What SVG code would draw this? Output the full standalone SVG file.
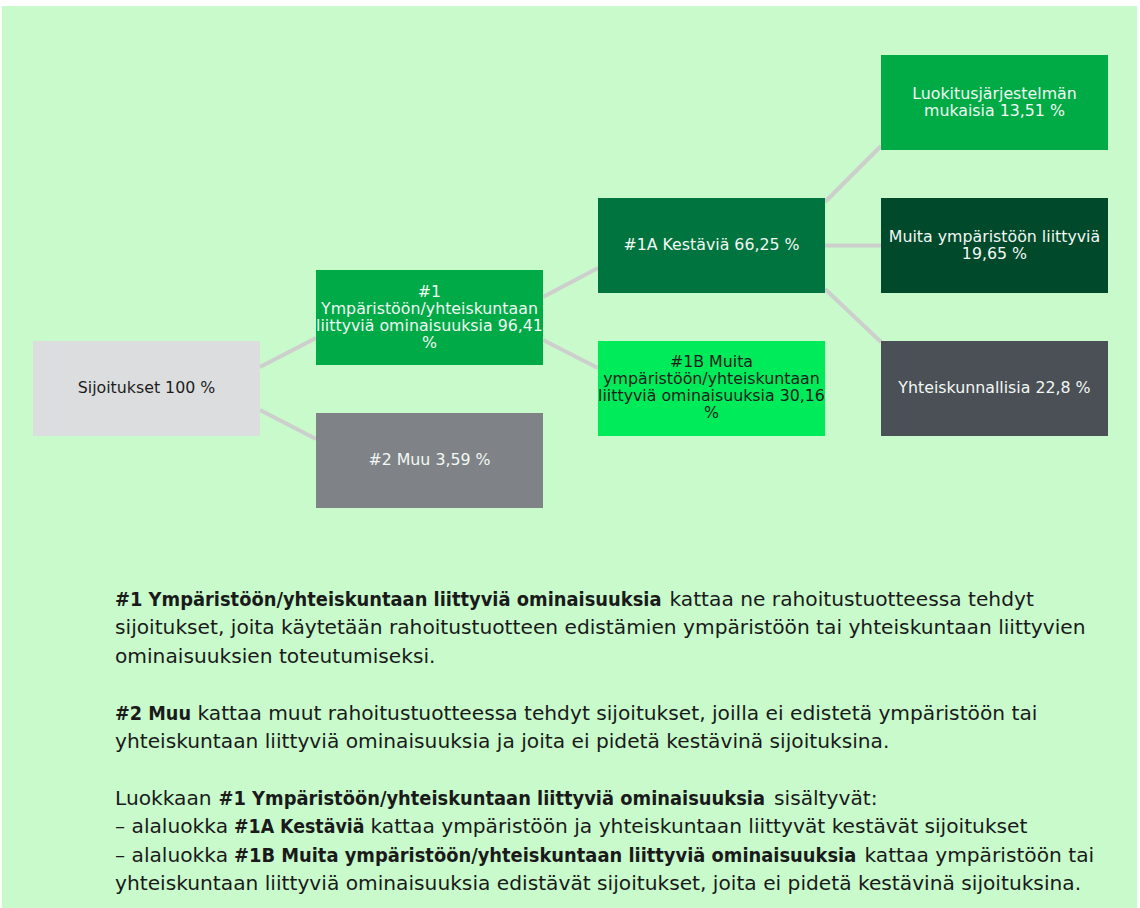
<svg xmlns="http://www.w3.org/2000/svg" width="1140" height="908" viewBox="0 0 1140 908">
<style>
.bt{font-family:"DejaVu Sans","Liberation Sans",sans-serif;font-size:15.8px;text-anchor:middle}
.lt{fill:#f2f8f4}
.dk{fill:#1c1c1c}
.body{font-family:"DejaVu Sans","Liberation Sans",sans-serif;font-size:20.2px;fill:#1a1a1a}
.b{font-weight:bold}
.con line{stroke:#cdcfcd;stroke-width:4}
</style>
<rect x="0" y="0" width="1140" height="908" fill="#ffffff"/>
<rect x="2" y="6" width="1135" height="902" fill="#c8facc"/>
<g class="con" id="connectors">
<line x1="260" y1="367" x2="316" y2="338"/>
<line x1="260" y1="410" x2="316" y2="439"/>
<line x1="543" y1="297" x2="598" y2="268"/>
<line x1="543" y1="340" x2="598" y2="368"/>
<line x1="825" y1="202" x2="881" y2="146"/>
<line x1="825" y1="245.5" x2="881" y2="245.5"/>
<line x1="825" y1="289" x2="881" y2="342"/>
</g>
<g id="n-sijoitukset">
<rect x="33" y="341" width="227" height="95" fill="#dcdddf"/>
<text class="bt dk" x="146.5" y="393">Sijoitukset 100 %</text>
</g>
<g id="n-1">
<rect x="316" y="270" width="227" height="95" fill="#00aa46"/>
<text class="bt lt" x="429.5" y="297">#1</text>
<text class="bt lt" x="429.5" y="314">Ympäristöön/yhteiskuntaan</text>
<text class="bt lt" x="429.5" y="331">liittyviä ominaisuuksia 96,41</text>
<text class="bt lt" x="429.5" y="348">%</text>
</g>
<g id="n-2">
<rect x="316" y="413" width="227" height="95" fill="#7f8387"/>
<text class="bt lt" x="429.5" y="465">#2 Muu 3,59 %</text>
</g>
<g id="n-1a">
<rect x="598" y="198" width="227" height="95" fill="#00743e"/>
<text class="bt lt" x="711.5" y="250">#1A Kestäviä 66,25 %</text>
</g>
<g id="n-1b">
<rect x="598" y="341" width="227" height="95" fill="#00eb5a"/>
<text class="bt dk" x="711.5" y="367">#1B Muita</text>
<text class="bt dk" x="711.5" y="384">ympäristöön/yhteiskuntaan</text>
<text class="bt dk" x="711.5" y="401">liittyviä ominaisuuksia 30,16</text>
<text class="bt dk" x="711.5" y="418">%</text>
</g>
<g id="n-luokitus">
<rect x="881" y="55" width="227" height="95" fill="#00ab46"/>
<text class="bt lt" x="994.5" y="99">Luokitusjärjestelmän</text>
<text class="bt lt" x="994.5" y="116">mukaisia 13,51 %</text>
</g>
<g id="n-muita">
<rect x="881" y="198" width="227" height="95" fill="#00492a"/>
<text class="bt lt" x="994.5" y="242">Muita ympäristöön liittyviä</text>
<text class="bt lt" x="994.5" y="259">19,65 %</text>
</g>
<g id="n-yhteis">
<rect x="881" y="341" width="227" height="95" fill="#4a5055"/>
<text class="bt lt" x="994.5" y="393">Yhteiskunnallisia 22,8 %</text>
</g>
<g id="legend">
<text class="body b" transform="translate(115,606) scale(0.885,1)">#1 Ympäristöön/yhteiskuntaan liittyviä ominaisuuksia</text>
<text class="body" x="669.5" y="606">kattaa ne rahoitustuotteessa tehdyt</text>
<text class="body" x="115" y="634.4">sijoitukset, joita käytetään rahoitustuotteen edistämien ympäristöön tai yhteiskuntaan liittyvien</text>
<text class="body" x="115" y="662.8">ominaisuuksien toteutumiseksi.</text>
<text class="body b" transform="translate(115,719.6) scale(0.875,1)">#2 Muu</text>
<text class="body" x="197.5" y="719.6">kattaa muut rahoitustuotteessa tehdyt sijoitukset, joilla ei edistetä ympäristöön tai</text>
<text class="body" x="115" y="748">yhteiskuntaan liittyviä ominaisuuksia ja joita ei pidetä kestävinä sijoituksina.</text>
<text class="body" x="115" y="804.8">Luokkaan</text>
<text class="body b" transform="translate(218.5,804.8) scale(0.885,1)">#1 Ympäristöön/yhteiskuntaan liittyviä ominaisuuksia</text>
<text class="body" x="774" y="804.8">sisältyvät:</text>
<text class="body" x="115" y="833.2">– alaluokka</text>
<text class="body b" transform="translate(234,833.2) scale(0.86,1)">#1A Kestäviä</text>
<text class="body" x="370.5" y="833.2">kattaa ympäristöön ja yhteiskuntaan liittyvät kestävät sijoitukset</text>
<text class="body" x="115" y="861.6">– alaluokka</text>
<text class="body b" transform="translate(234,861.6) scale(0.885,1)">#1B Muita ympäristöön/yhteiskuntaan liittyviä ominaisuuksia</text>
<text class="body" x="864.5" y="861.6">kattaa ympäristöön tai</text>
<text class="body" x="115" y="890">yhteiskuntaan liittyviä ominaisuuksia edistävät sijoitukset, joita ei pidetä kestävinä sijoituksina.</text>
</g>
</svg>
